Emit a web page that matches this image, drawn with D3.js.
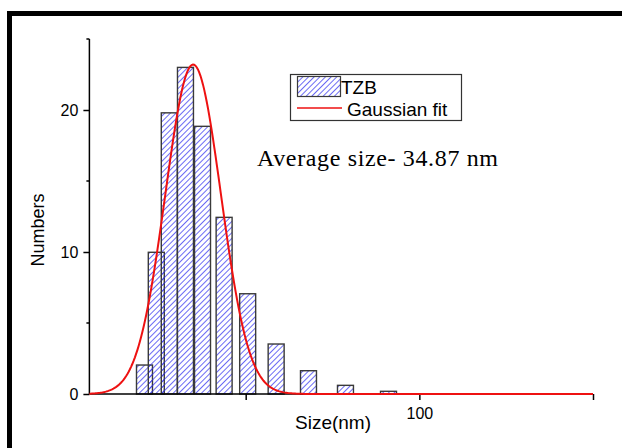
<!DOCTYPE html>
<html>
<head>
<meta charset="utf-8">
<script src="https://cdn.jsdelivr.net/npm/d3@7"></script>
<style>
  html, body { margin: 0; padding: 0; background: #fff; }
  svg { display: block; }
</style>
</head>
<body>
<svg id="chart" width="622" height="448"></svg>
<script>
// Particle size histogram (bin centres in nm) and counts
const binCenters = [20.86, 24.26, 28.0, 32.66, 37.57, 43.79, 50.57, 58.77, 68.08, 78.73, 91.12];
const counts     = [2.04, 9.98, 19.8, 23.0, 18.85, 12.44, 7.06, 3.52, 1.64, 0.61, 0.19];

// Gaussian fit parameters: centre (nm), sigma (nm), peak height
const fitCenter = 34.87;
const fitSigma  = 8.0;
const fitPeak   = 23.2;

const yMajorTicks = [0, 10, 20];
const yMinorTicks = [5, 15, 25];
const xTicks = [50, 100, 150];
const xTickLabels = ["", "100", ""];

const seriesName = "TZB";
const fitName = "Gaussian fit";
const note = "Average size- 34.87 nm";

const svg = d3.select("#chart");
const plot = { left: 89.4, right: 593, top: 39, bottom: 394 };

const x = d3.scaleLinear().domain([5, 150]).range([plot.left, plot.right]);
const y = d3.scaleLinear().domain([0, 25]).range([plot.bottom, plot.top]);
const barHalf = 2.3; // nm, half the drawn bar width

const sans = "Arial, 'Liberation Sans', sans-serif";

// hatch pattern for the bars
const defs = svg.append("defs");
const pat = defs.append("pattern")
  .attr("id", "hatch").attr("patternUnits", "userSpaceOnUse")
  .attr("width", 4).attr("height", 4)
  .attr("patternTransform", "rotate(45)");
pat.append("line").attr("x1", 0).attr("y1", 0).attr("x2", 0).attr("y2", 4)
  .attr("stroke", "#2a2af0").attr("stroke-width", 1.4);

// outer frame
svg.append("rect").attr("x", 9.5).attr("y", 13.5).attr("width", 700).attr("height", 500)
  .attr("fill", "none").attr("stroke", "#000").attr("stroke-width", 5);

// bars
svg.append("g").selectAll("rect").data(binCenters).join("rect")
  .attr("x", d => x(d - barHalf))
  .attr("width", d => x(d + barHalf) - x(d - barHalf))
  .attr("y", (d, i) => y(counts[i]))
  .attr("height", (d, i) => y(0) - y(counts[i]))
  .attr("fill", "url(#hatch)")
  .attr("stroke", "#3a3a3a").attr("stroke-width", 1.4);

// y axis
const yAxis = svg.append("g").attr("transform", `translate(${plot.left},0)`);
yAxis.call(d3.axisLeft(y).tickValues(yMajorTicks).tickSize(6).tickPadding(5).tickFormat(d3.format("d")));
yAxis.append("g").selectAll("line").data(yMinorTicks).join("line")
  .attr("x1", -3).attr("x2", 0).attr("y1", d => y(d)).attr("y2", d => y(d))
  .attr("stroke", "#000").attr("stroke-width", 1.5);
yAxis.select(".domain").attr("d", `M0,${plot.top}V${plot.bottom}`).attr("stroke-width", 1.5);
yAxis.selectAll(".tick line").attr("stroke-width", 1.5);
yAxis.selectAll("text").attr("font-family", sans).attr("font-size", 16).attr("fill", "#000");

// x axis
const xAxis = svg.append("g").attr("transform", `translate(0,${plot.bottom})`);
xAxis.call(d3.axisBottom(x).tickValues(xTicks).tickSize(6).tickPadding(8)
  .tickFormat((d, i) => xTickLabels[i]));
xAxis.select(".domain").attr("d", `M${plot.left},0H${plot.right}`).attr("stroke-width", 1.5);
xAxis.selectAll(".tick line").attr("stroke-width", 1.5);
xAxis.selectAll("text").attr("font-family", sans).attr("font-size", 16).attr("fill", "#000");

// Gaussian fit curve
const fitX = d3.range(400).map(i => 5 + i * (145 / 399));
const gauss = v => fitPeak * Math.exp(-((v - fitCenter) ** 2) / (2 * fitSigma * fitSigma));
svg.append("path")
  .datum(fitX)
  .attr("d", d3.line().x(d => x(d)).y(d => y(gauss(d))))
  .attr("fill", "none").attr("stroke", "#ee1111").attr("stroke-width", 2);

// axis titles
svg.append("text").attr("x", 333).attr("y", 429).attr("text-anchor", "middle")
  .attr("font-family", sans).attr("font-size", 19)
  .text("Size(nm)");
svg.append("text").attr("transform", "translate(44,230) rotate(-90)").attr("text-anchor", "middle")
  .attr("font-family", sans).attr("font-size", 18)
  .text("Numbers");

// annotation
svg.append("text").attr("x", 257).attr("y", 166)
  .attr("font-family", "'Times New Roman', 'Liberation Serif', serif").attr("font-size", 24)
  .attr("textLength", 241).attr("lengthAdjust", "spacing")
  .text(note);

// legend
const lg = svg.append("g");
lg.append("rect").attr("x", 290.5).attr("y", 74.5).attr("width", 171).attr("height", 46)
  .attr("fill", "#fff").attr("stroke", "#333").attr("stroke-width", 1.2);
lg.append("rect").attr("x", 297.5).attr("y", 76.5).attr("width", 43).attr("height", 20)
  .attr("fill", "url(#hatch)").attr("stroke", "#3a3a3a").attr("stroke-width", 1.2);
lg.append("text").attr("x", 341).attr("y", 94)
  .attr("font-family", sans).attr("font-size", 19).text(seriesName);
lg.append("line").attr("x1", 297).attr("x2", 342).attr("y1", 108).attr("y2", 108)
  .attr("stroke", "#ee1111").attr("stroke-width", 1.5);
lg.append("text").attr("x", 347).attr("y", 116)
  .attr("font-family", sans).attr("font-size", 19).text(fitName);
</script>
</body>
</html>
